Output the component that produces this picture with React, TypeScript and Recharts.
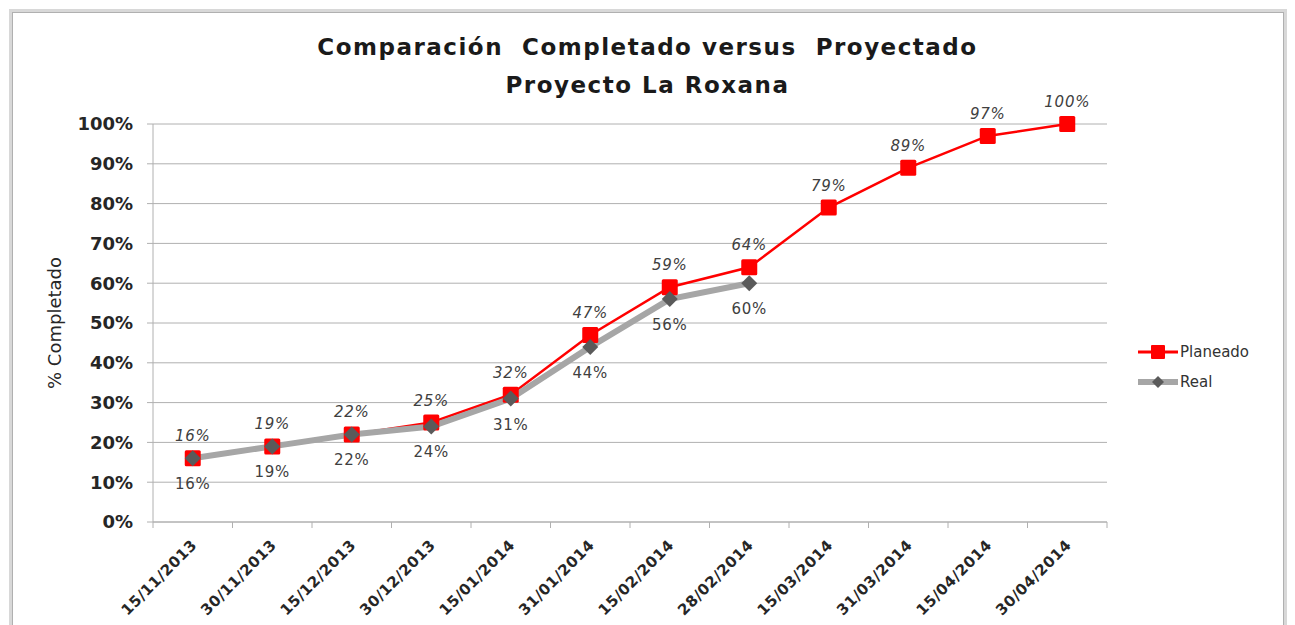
import React from "react";
import {
  ComposedChart, Line, XAxis, YAxis, CartesianGrid, LabelList,
} from "recharts";

const fechas = [
  "15/11/2013", "30/11/2013", "15/12/2013", "30/12/2013", "15/01/2014", "31/01/2014",
  "15/02/2014", "28/02/2014", "15/03/2014", "31/03/2014", "15/04/2014", "30/04/2014",
];
const planeado = [16, 19, 22, 25, 32, 47, 59, 64, 79, 89, 97, 100];
const real = [16, 19, 22, 24, 31, 44, 56, 60];
const yTicks = [0, 10, 20, 30, 40, 50, 60, 70, 80, 90, 100];

const data = fechas.map((f, i) => ({
  fecha: f,
  planeado: planeado[i],
  real: i < real.length ? real[i] : null,
}));

const W = 1295;
const H = 625;
const M = { top: 124, right: 188, bottom: 0, left: 0 };
const AXIS_W = 153;
const AXIS_H = 103;
const half = (W - M.right - AXIS_W) / fechas.length / 2;
const font = "'DejaVu Sans', sans-serif";
const gridColor = "#b0b0b0";
const textColor = "#262626";

function XTick(props: any) {
  const { x, y, payload, index } = props;
  const top = y - 8;
  const ax = x + 5;
  const ay = y + 16;
  return (
    <g>
      <line x1={x - half} x2={x - half} y1={top} y2={top + 6} stroke={gridColor} />
      {index === fechas.length - 1 && (
        <line x1={x + half} x2={x + half} y1={top} y2={top + 6} stroke={gridColor} />
      )}
      <text
        x={ax}
        y={ay}
        textAnchor="end"
        transform={`rotate(-45, ${ax}, ${ay})`}
        fontFamily={font}
        fontWeight="bold"
        fontSize={15}
        letterSpacing={0.5}
        fill={textColor}
      >
        {payload.value}
      </text>
    </g>
  );
}

function SquareDot(props: any) {
  const { cx, cy } = props;
  if (cx == null || cy == null) return null;
  return <rect x={cx - 8} y={cy - 8} width={16} height={16} fill="#ff0000" rx={1.5} />;
}

function DiamondDot(props: any) {
  const { cx, cy, value } = props;
  if (cx == null || cy == null || value == null) return null;
  const s = 8;
  return (
    <polygon
      points={`${cx},${cy - s} ${cx + s},${cy} ${cx},${cy + s} ${cx - s},${cy}`}
      fill="#5a5a5a"
    />
  );
}

function PlanLabel(props: any) {
  const { x, y, value } = props;
  if (value == null) return null;
  return (
    <text x={x} y={y - 17} textAnchor="middle" fontFamily={font} fontSize={15}
      fontStyle="italic" letterSpacing={0.8} fill="#404040">
      {value}%
    </text>
  );
}

function RealLabel(props: any) {
  const { x, y, value } = props;
  if (value == null) return null;
  return (
    <text x={x} y={y + 31} textAnchor="middle" fontFamily={font} fontSize={15}
      letterSpacing={0.8} fill="#404040">
      {value}%
    </text>
  );
}

function LegendBox() {
  const row = (label: string, kind: "plan" | "real") => (
    <div style={{ display: "flex", alignItems: "center", height: 30 }}>
      <svg width={44} height={16}>
        {kind === "plan" ? (
          <>
            <line x1={2} x2={42} y1={8} y2={8} stroke="#ff0000" strokeWidth={3} />
            <rect x={15} y={1} width={14} height={14} fill="#ff0000" rx={1} />
          </>
        ) : (
          <>
            <line x1={2} x2={42} y1={8} y2={8} stroke="#a6a6a6" strokeWidth={6} />
            <polygon points="22,2 28,8 22,14 16,8" fill="#5a5a5a" />
          </>
        )}
      </svg>
      <span style={{ fontFamily: font, fontSize: 15, color: "#333", marginLeft: 0 }}>{label}</span>
    </div>
  );
  return (
    <div style={{ position: "absolute", left: 1136, top: 337 }}>
      {row("Planeado", "plan")}
      {row("Real", "real")}
    </div>
  );
}

export default function App() {
  return (
    <div style={{ position: "absolute", left: 0, top: 0, width: W, height: H, background: "#fff", overflow: "hidden" }}>
      <div
        style={{
          position: "absolute", left: 9, top: 9, width: 1272, height: 640,
          border: "3px solid #d8d8d8", boxShadow: "inset 0 0 0 1px #b0b0b0",
        }}
      />
      <div
        style={{
          position: "absolute", left: 0, top: 28, width: W, textAlign: "center",
          fontFamily: font, fontWeight: "bold", letterSpacing: 1.5,
          fontSize: 23, lineHeight: "38px", color: "#1a1a1a",
        }}
      >
        <div>Comparación&nbsp; Completado versus&nbsp; Proyectado</div>
        <div>Proyecto La Roxana</div>
      </div>
      <ComposedChart width={W} height={H} data={data} margin={M}>
        <CartesianGrid vertical={false} stroke={gridColor} />
        <XAxis
          dataKey="fecha"
          scale="band"
          height={AXIS_H}
          tick={<XTick />}
          tickLine={false}
          axisLine={{ stroke: gridColor }}
          interval={0}
        />
        <YAxis
          width={AXIS_W}
          domain={[0, 100]}
          ticks={yTicks}
          tickFormatter={(v: number) => `${v}%`}
          tick={{ fontFamily: font, fontWeight: "bold", fontSize: 18, fill: textColor }}
          tickLine={{ stroke: gridColor }}
          tickSize={6}
          tickMargin={14}
          axisLine={{ stroke: gridColor }}
          label={{
            value: "% Completado", angle: -90, position: "insideLeft", offset: 55,
            style: { fontFamily: font, fontSize: 18, fill: textColor, textAnchor: "middle" },
          }}
        />
        <Line
          dataKey="planeado"
          stroke="#ff0000"
          strokeWidth={2.5}
          dot={<SquareDot />}
          activeDot={false}
          isAnimationActive={false}
        >
          <LabelList dataKey="planeado" content={<PlanLabel />} />
        </Line>
        <Line
          dataKey="real"
          stroke="#a6a6a6"
          strokeWidth={6}
          dot={<DiamondDot />}
          activeDot={false}
          connectNulls={false}
          isAnimationActive={false}
        >
          <LabelList dataKey="real" content={<RealLabel />} />
        </Line>
      </ComposedChart>
      <LegendBox />
    </div>
  );
}
